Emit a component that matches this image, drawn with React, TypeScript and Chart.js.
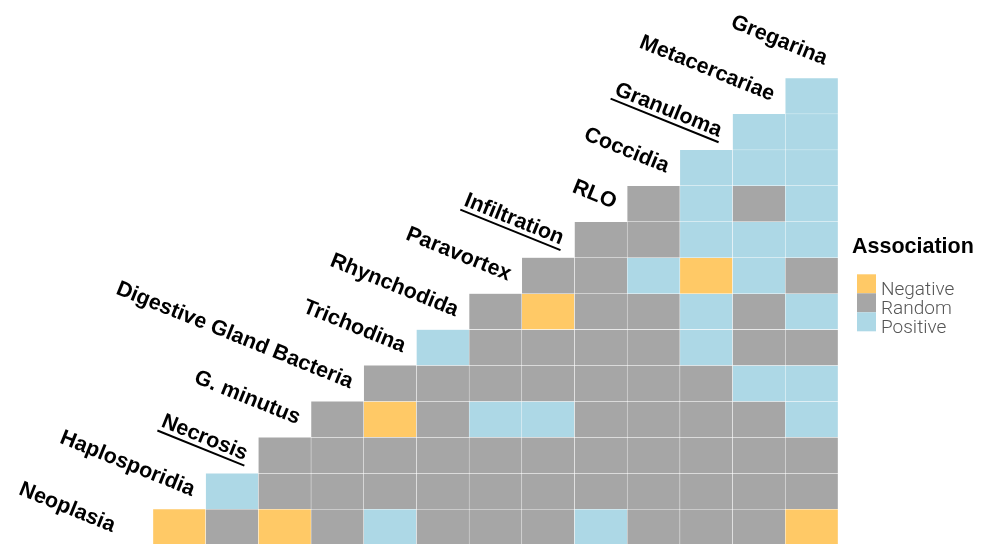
import React, { useEffect, useRef } from "react";
import { Chart, registerables } from "chart.js";

Chart.register(...registerables);

// Column variables (left → right)
const columns = [
  "Haplosporidia", "Necrosis", "G. minutus", "Digestive Gland Bacteria", "Trichodina",
  "Rhynchodida", "Paravortex", "Infiltration", "RLO", "Coccidia", "Granuloma",
  "Metacercariae", "Gregarina",
];

// Row variables (top → bottom)
const rows = [
  "Metacercariae", "Granuloma", "Coccidia", "RLO", "Infiltration", "Paravortex",
  "Rhynchodida", "Trichodina", "Digestive Gland Bacteria", "G. minutus", "Necrosis",
  "Haplosporidia", "Neoplasia",
];

// Diagonal labels (top → bottom)
const diagonalLabels = ["Gregarina", ...rows];
const underlinedLabels = ["Granuloma", "Infiltration", "Necrosis"];

// Associations per row, from its first cell to the right edge. N = Negative, R = Random, P = Positive
const rowMetacercariae = ["P"];
const rowGranuloma = ["P", "P"];
const rowCoccidia = ["P", "P", "P"];
const rowRLO = ["R", "P", "R", "P"];
const rowInfiltration = ["R", "R", "P", "P", "P"];
const rowParavortex = ["R", "R", "P", "N", "P", "R"];
const rowRhynchodida = ["R", "N", "R", "R", "P", "R", "P"];
const rowTrichodina = ["P", "R", "R", "R", "R", "P", "R", "R"];
const rowDGB = ["R", "R", "R", "R", "R", "R", "R", "P", "P"];
const rowGminutus = ["R", "N", "R", "P", "P", "R", "R", "R", "R", "P"];
const rowNecrosis = ["R", "R", "R", "R", "R", "R", "R", "R", "R", "R", "R"];
const rowHaplosporidia = ["P", "R", "R", "R", "R", "R", "R", "R", "R", "R", "R", "R"];
const rowNeoplasia = ["N", "R", "N", "R", "P", "R", "R", "R", "P", "R", "R", "R", "N"];

const rowValues = [
  rowMetacercariae, rowGranuloma, rowCoccidia, rowRLO, rowInfiltration, rowParavortex,
  rowRhynchodida, rowTrichodina, rowDGB, rowGminutus, rowNecrosis, rowHaplosporidia, rowNeoplasia,
];

const legendTitle = "Association";
const legendCodes = ["N", "R", "P"];
const legendLabels = ["Negative", "Random", "Positive"];
const legendColors = ["#FFC966", "#A6A6A6", "#ADD8E6"];

const colorFor = (code: string) => legendColors[legendCodes.indexOf(code)];

const nRows = rows.length;
const nCols = columns.length;

const labelPlugin = {
  id: "diagLabels",
  afterDraw(chart: any) {
    const ctx = chart.ctx as CanvasRenderingContext2D;
    const xs = chart.scales.x;
    const ys = chart.scales.y;
    const colW = xs.getPixelForValue(1) - xs.getPixelForValue(0);
    const angle = (22 * Math.PI) / 180;
    ctx.save();
    diagonalLabels.forEach((label, k) => {
      const r = k - 1;
      const firstCol = nCols - k;
      let x = xs.getPixelForValue(firstCol) - colW / 2 - 14;
      const y = ys.getPixelForValue(nRows - 0.5 - r) + 5;
      if (k === diagonalLabels.length - 1) x -= 27;
      ctx.save();
      ctx.translate(x, y);
      ctx.rotate(angle);
      ctx.font = 'bold 21.5px "Liberation Sans", Arial, sans-serif';
      ctx.fillStyle = "#000";
      ctx.textAlign = "right";
      ctx.textBaseline = "alphabetic";
      ctx.fillText(label, 0, 0);
      if (underlinedLabels.includes(label)) {
        const w = ctx.measureText(label).width;
        ctx.beginPath();
        ctx.moveTo(-w - 1, 5);
        ctx.lineTo(2, 5);
        ctx.lineWidth = 2;
        ctx.strokeStyle = "#000";
        ctx.stroke();
      }
      ctx.restore();
    });

    // Legend
    const lx = 852;
    ctx.font = 'bold 21.5px "Liberation Sans", Arial, sans-serif';
    ctx.fillStyle = "#000";
    ctx.textAlign = "left";
    ctx.textBaseline = "alphabetic";
    ctx.fillText(legendTitle, lx, 253);
    const sw = 19;
    const top = 274.3;
    legendLabels.forEach((lab, i) => {
      ctx.fillStyle = legendColors[i];
      ctx.fillRect(lx + 5, top + i * sw, sw, sw);
      ctx.font = '300 19px Roboto, "Liberation Sans", Arial, sans-serif';
      ctx.fillStyle = "#555";
      ctx.fillText(lab, lx + 29, top + (i + 1) * sw + 1.5);
    });
    ctx.restore();
  },
};

export default function App() {
  const canvasRef = useRef<HTMLCanvasElement | null>(null);

  useEffect(() => {
    if (!canvasRef.current) return;
    const datasets = rows.map((rowName, r) => {
      const first = nCols - 1 - r;
      const vals = rowValues[r];
      return {
        label: rowName,
        data: columns.map((_, c) => (c >= first ? [nRows - 1 - r, nRows - r] : null)),
        backgroundColor: columns.map((_, c) => (c >= first ? colorFor(vals[c - first]) : "rgba(0,0,0,0)")),
        borderColor: "rgba(255,255,255,0.85)",
        borderWidth: 0.5,
        borderSkipped: false,
        barPercentage: 1,
        categoryPercentage: 1,
      };
    });

    const chart = new Chart(canvasRef.current, {
      type: "bar",
      data: { labels: columns, datasets: datasets as any },
      options: {
        animation: false,
        responsive: false,
        layout: { padding: { left: 153, right: 155, top: 78, bottom: 0 } },
        plugins: { legend: { display: false }, tooltip: { enabled: false } },
        scales: {
          x: { type: "category", display: false, stacked: true, offset: true },
          y: { type: "linear", display: false, min: 0.03, max: nRows },
        },
      },
      plugins: [labelPlugin],
    });
    return () => chart.destroy();
  }, []);

  return (
    <div style={{ position: "fixed", left: 0, top: 0, width: 993, height: 544, background: "#fff" }}>
      <canvas ref={canvasRef} width={993} height={544} style={{ width: 993, height: 544 }} />
    </div>
  );
}
